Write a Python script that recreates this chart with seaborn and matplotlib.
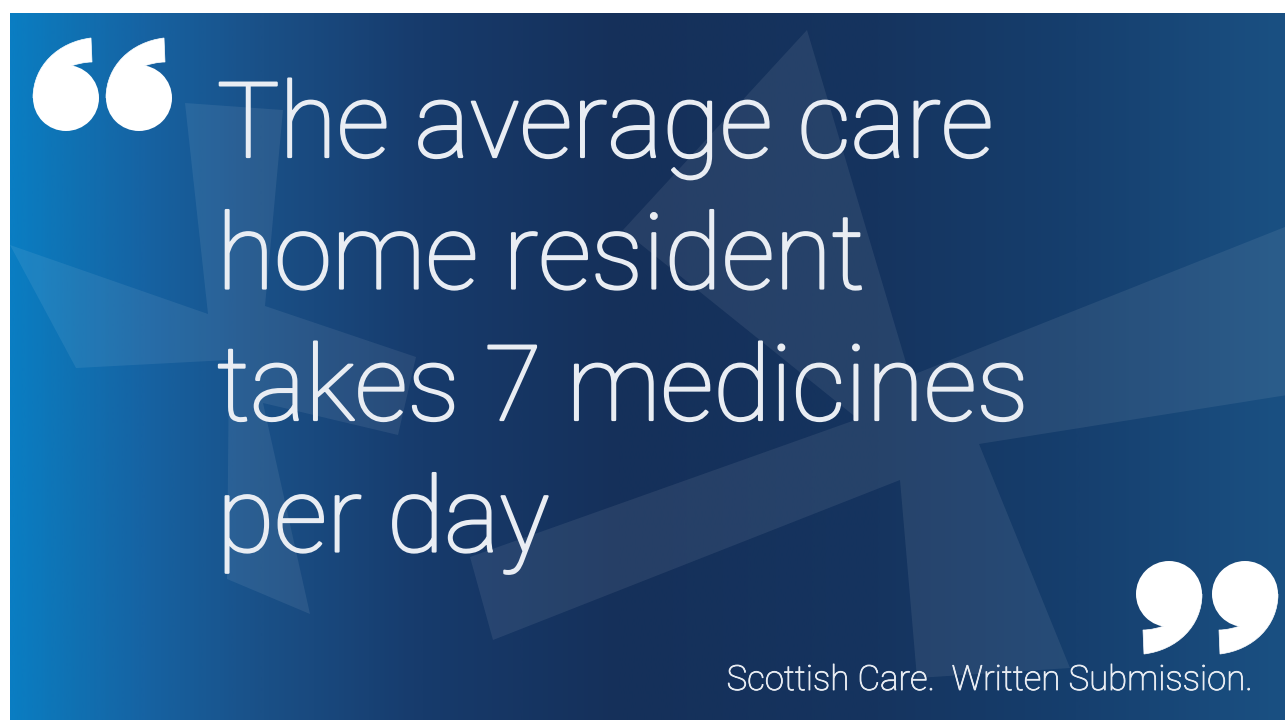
import numpy as np
import matplotlib
matplotlib.use("Agg")
import matplotlib.pyplot as plt
import matplotlib.patheffects as pe
import seaborn as sns
from matplotlib.colors import LinearSegmentedColormap
from matplotlib.patches import Polygon, Rectangle, PathPatch, Circle
from matplotlib.path import Path

sns.set_theme(style="white")
plt.rcParams['font.family'] = ['Roboto', 'DejaVu Sans']

# ---- content ----
quote_lines = ["The average care", "home resident", "takes 7 medicines", "per day"]
attribution = "Scottish Care.  Written Submission."

# background gradient stops (x position in px, colour)
grad_x = [10, 60, 140, 260, 420, 620, 880, 1080, 1285]
grad_c = ["#0a7dc2", "#0f73b5", "#1663a3", "#1a5087", "#173b6c", "#15305a", "#15345f", "#163f6e", "#1a5082"]

# faint decorative cross shapes (outline vertices, px)
star_a_x = [185, 283, 265, 416, 398, 263, 310, 227, 229, 76, 10, 208]
star_a_y = [103, 110, 306, 357, 435, 403, 614, 579, 360, 368, 245, 314]
star_b_x = [807, 910, 1300, 1300, 979, 1070, 917, 900, 493, 470, 858, 623]
star_b_y = [30, 376, 221, 393, 444, 668, 678, 480, 640, 557, 419, 230]

# quote-mark glyph anchors (top-left of each glyph box, px)
open_quote_x = [33, 106]
open_quote_y = [38, 38]
close_quote_x = [1136, 1212]
close_quote_y = [561, 561]

W, H = 1285, 720
fig = plt.figure(figsize=(W / 100, H / 100), dpi=100, facecolor="white")
ax = fig.add_axes([0, 0, 1, 1])
ax.set_xlim(0, W)
ax.set_ylim(H, 0)
ax.axis("off")

panel_x0, panel_y0 = 10, 13
cmap = LinearSegmentedColormap.from_list(
    "bg", [((gx - grad_x[0]) / (grad_x[-1] - grad_x[0]), c) for gx, c in zip(grad_x, grad_c)])
grad = np.linspace(0, 1, 600)[None, :]
ax.imshow(grad, cmap=cmap, aspect="auto", extent=[panel_x0, W, H, panel_y0],
          interpolation="bilinear", zorder=0)

clip = Rectangle((panel_x0, panel_y0), W - panel_x0, H - panel_y0, transform=ax.transData)
for sx, sy in [(star_a_x, star_a_y), (star_b_x, star_b_y)]:
    p = Polygon(np.column_stack([sx, sy]), closed=True, facecolor="white",
                edgecolor="none", alpha=0.075, zorder=1)
    ax.add_patch(p)
    p.set_clip_path(clip)


def quote_glyph(x0, y0, flip=False):
    """Heavy '6'-shaped quotation glyph (ball + curved tail), box 66 x 93 px."""
    bw, bh, r = 66, 93, 33
    tail = [(58, 0), (25, 4), (0, 28), (0, 60), (33, 60), (33, 30),
            (42, 26), (52, 24), (59, 24), (58, 0)]
    codes = [Path.MOVETO, Path.CURVE4, Path.CURVE4, Path.CURVE4, Path.LINETO,
             Path.LINETO, Path.CURVE4, Path.CURVE4, Path.CURVE4, Path.CLOSEPOLY]
    cx, cy = 33, 60
    if flip:
        tail = [(bw - u, bh - v) for u, v in tail]
        cx, cy = bw - cx, bh - cy
    verts = [(x0 + u, y0 + v) for u, v in tail]
    ax.add_patch(PathPatch(Path(verts, codes), facecolor="white", edgecolor="white",
                           lw=0.5, zorder=3))
    ax.add_patch(Circle((x0 + cx, y0 + cy), r, facecolor="white", edgecolor="none", zorder=3))


for qx, qy in zip(open_quote_x, open_quote_y):
    quote_glyph(qx, qy)
for qx, qy in zip(close_quote_x, close_quote_y):
    quote_glyph(qx, qy, flip=True)

text_color = "#e9edf3"
thicken = [pe.withStroke(linewidth=1.6, foreground=text_color)]
thicken_small = [pe.withStroke(linewidth=0.6, foreground=text_color)]

# main quote text
base_y0, line_gap = 157, 131.5
for i, line in enumerate(quote_lines):
    ax.text(217, base_y0 + i * line_gap, line, fontsize=75.3, fontweight="light",
            color=text_color, va="baseline", ha="left", zorder=3, path_effects=thicken)

ax.text(1253, 690, attribution, fontsize=25, fontweight="light", color=text_color,
        va="baseline", ha="right", zorder=3, path_effects=thicken_small)

fig.savefig("out.png", dpi=100, facecolor="white")
